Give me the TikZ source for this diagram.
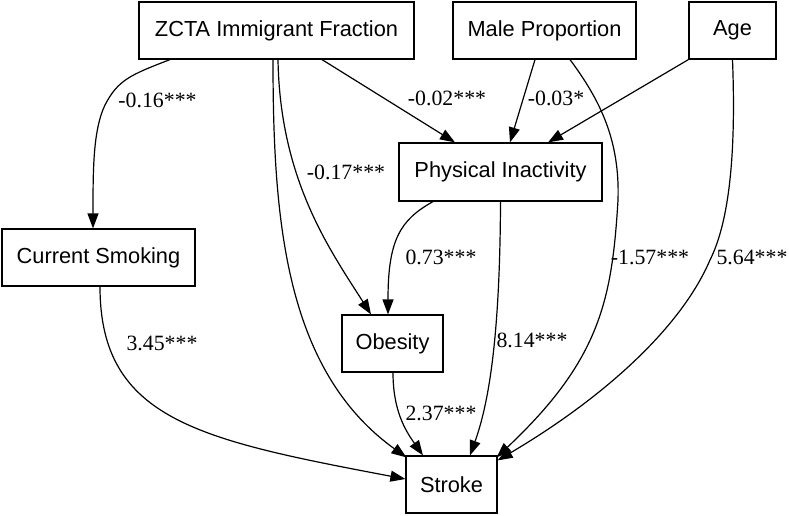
\documentclass[tikz,border=0pt]{standalone}
\usepackage{fontspec}
\setmainfont{Liberation Serif}
\newfontfamily\boxfont{Liberation Sans}
\usetikzlibrary{arrows.meta}
\begin{document}
\begin{tikzpicture}[x=1pt,y=-1pt,
  box/.style={draw,line width=1.2pt,inner sep=0pt,minimum height=57pt,
    font=\boxfont\fontsize{21.8}{26}\selectfont},
  lbl/.style={inner sep=0pt,font=\fontsize{21.8}{26}\selectfont},
  edge/.style={line width=1.2pt,-{Triangle[length=15pt,width=11pt]}}]
\useasboundingbox (0,0) rectangle (789,516);
\node[box,minimum width=275pt] (zcta) at (276.5,30.5) {ZCTA Immigrant Fraction};
\node[box,minimum width=183pt] (male) at (544.5,30.5) {Male Proportion};
\node[box,minimum width=87pt] (age) at (732.5,30.5) {Age};
\node[box,minimum width=203pt,minimum height=58pt] (pi) at (500.5,172) {Physical Inactivity};
\node[box,minimum width=193pt] (smk) at (98.5,257.5) {Current Smoking};
\node[box,minimum width=101pt] (obe) at (392.5,343.5) {Obesity};
\node[box,minimum width=91pt] (str) at (451.5,484.5) {Stroke};

% ZCTA -> Smoking
\draw[edge] ([xshift=-106.5pt]zcta.south) .. controls (130,75) and (118,80) .. (105,105)
  .. controls (93,130) and (93,170) .. ([xshift=-5.5pt]smk.north);
\node[lbl] (l1) at (157.5,100) {-0.16***};
% ZCTA -> Stroke
\draw[edge] ([xshift=-3.5pt]zcta.south) .. controls (273,220) and (285,370) .. ([xshift=1pt,yshift=-2pt]str.north west);
% ZCTA -> Obesity
\draw[edge] ([xshift=1.5pt]zcta.south) .. controls (280,180) and (330,250) .. ([xshift=-21.5pt]obe.north);
\node[lbl] (l2) at (346,172) {-0.17***};
% ZCTA -> PI
\draw[edge] ([xshift=45.5pt]zcta.south) -- ([xshift=-45.5pt]pi.north);
\node[lbl] (l3) at (447,98) {-0.02***};
% Male -> PI
\draw[edge] ([xshift=-9.5pt]male.south) -- ([xshift=9.5pt]pi.north);
\node[lbl] (l4) at (556,98) {-0.03*};
% Male -> Stroke
\draw[edge] ([xshift=25.5pt]male.south) .. controls (600,100) and (620,140) .. (618,200)
  .. controls (612,300) and (600,360) .. ([xshift=-1pt,yshift=-2pt]str.north east);
\node[lbl] (l5) at (650,257) {-1.57***};
% Age -> PI
\draw[edge] (age.south west) -- ([xshift=47.5pt]pi.north);
% Age -> Stroke
\draw[edge] (age.south) .. controls (736,150) and (730,220) .. (710,260)
  .. controls (680,330) and (600,400) .. ([yshift=-5pt]str.north east);
\node[lbl] (l6) at (752,257) {5.64***};
% PI -> Obesity
\draw[edge] ([xshift=-67.5pt]pi.south) .. controls (400,220) and (388,240) .. ([xshift=-4.5pt]obe.north);
\node[lbl] (l7) at (441,257) {0.73***};
% PI -> Stroke
\draw[edge] (pi.south) .. controls (500,330) and (490,400) .. ([xshift=18.5pt]str.north);
\node[lbl] (l8) at (532,340) {8.14***};
% Obesity -> Stroke
\draw[edge] ([xshift=0.5pt]obe.south) .. controls (393,410) and (405,430) .. ([xshift=-28.5pt]str.north);
\node[lbl] (l9) at (441,413) {2.37***};
% Smoking -> Stroke
\draw[edge] ([xshift=1.5pt]smk.south) .. controls (100,420) and (200,440) .. ([yshift=5.5pt]str.west);
\node[lbl] (l10) at (162,343) {3.45***};
\end{tikzpicture}
\end{document}
